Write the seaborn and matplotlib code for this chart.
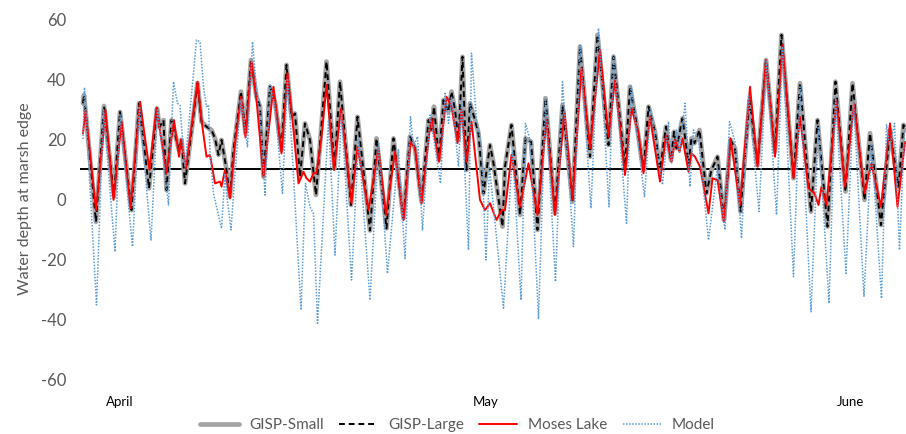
import matplotlib
matplotlib.use("Agg")
import matplotlib.pyplot as plt
import seaborn as sns
import pandas as pd

# ---- data (time in hours from start of record, water depth) ----
gisp_t = [0, 2, 26, 42, 62, 74, 97, 112, 132, 148, 153, 161, 167, 177, 192, 197, 204, 229, 237, 247,
          257, 264, 271, 277, 286, 294, 301, 316, 325, 336, 347, 354, 361, 374, 384, 397, 407, 417, 424,
          434, 444, 454, 466, 487, 503, 514, 536, 549, 574, 587, 607, 621, 641, 654, 664, 677, 691, 697,
          702, 712, 721, 731, 737, 744, 751, 759, 767, 774, 784, 791, 801, 814, 821, 839, 844, 857, 874,
          885, 896, 909, 925, 944, 959, 979, 994, 1014, 1029, 1051, 1061, 1084, 1094, 1107, 1121, 1131,
          1144, 1154, 1166, 1176, 1182, 1187, 1199, 1211, 1217, 1223, 1233, 1247, 1257, 1269, 1282, 1295,
          1304, 1315, 1333, 1349, 1366, 1384, 1397, 1421, 1434, 1456, 1469, 1489, 1505, 1525, 1539, 1563,
          1574, 1596, 1614, 1631, 1641, 1646]
gisp_small = [31.9, 34.7, -7.6, 31, 0.8, 29, -3.7, 31.9, 3.6, 30.2, 24, 26.3, 3, 26.3, 16.3, 19.7, 5.2, 38.6, 25.8, 24.1,
              23, 20.2, 14.7, 19.7, 10.8, 0.8, 16.3, 35.8, 21.9, 46.3, 34.1, 30.8, 7.4, 37.4, 32.4, 16.3, 44.7, 27.4, 28.5,
              7.4, 25.2, 19.7, 1.3, 45.8, 10.2, 39.1, -2, 27.4, -10.5, 20.2, -9.8, 20.2, -6.4, 20.8, 16.9, -0.9, 26.3, 23,
              30.8, 13, 33, 29.1, 35.8, 29.7, 19.7, 47.4, 9.7, 31.9, 26.3, 21.9, 1.9, 18, 11.9, -9.2, 10.8, 24.7, -5.3,
              20.2, 19.1, -10.3, 33.6, -4.8, 31.3, -0.9, 50.8, 14.1, 54.7, 18, 47.4, 10.8, 37.4, 25.2, 9.7, 30.8,
              22.4, 9.7, 24.1, 13, 22.4, 16.9, 26.9, 11.9, 20.2, 18.6, 23, 1.9, 9.7, 14.1, -7, 19.7,
              16.9, -4.2, 33, 11.3, 46.3, 15.8, 54.7, 6.9, 38.6, -4.2, 26.3, -9.2, 39.1, 2.5, 38.6, -0.3,
              21.9, -8.7, 23, 4.1, 24.7, 23]
gisp_large = gisp_small

moses_t = [0, 5, 26, 45, 61, 77, 95, 114, 133, 147, 167, 182, 192, 196, 206, 229, 237, 247, 254, 264, 274, 277,
           284, 294, 304, 316, 325, 337, 347, 361, 381, 397, 409, 421, 431, 441, 447, 454, 461, 467, 477, 487, 502,
           516, 537, 549, 571, 591, 606, 624, 641, 655, 664, 677, 694, 697, 712, 727, 737, 749, 757, 767, 777, 794,
           804, 814, 827, 837, 844, 857, 874, 891, 909, 927, 944, 963, 979, 997, 1014, 1034, 1051, 1064, 1084, 1097,
           1111, 1121, 1134, 1154, 1166, 1177, 1184, 1193, 1199, 1211, 1217, 1224, 1234, 1251, 1259, 1269, 1282,
           1295, 1314, 1334, 1349, 1366, 1384, 1399, 1421, 1434, 1451, 1463, 1471, 1477, 1487, 1507, 1524, 1542,
           1563, 1577, 1584, 1596, 1614, 1629, 1644]
moses = [21.9, 29.3, -3.7, 29.7, -0.3, 25.8, -3.1, 32.4, 9.7, 30.4, 8.6, 26.3, 14.1, 19.9, 10.2, 39.1, 26.3, 14.1, 14.7, 5.2, 5.8, 4.1,
         9.7, 0.2, 18.6, 34.1, 20.5, 45.8, 33, 7.4, 37.4, 15.2, 41.9, 23, 5.2, 9.1, 6.9, 5.8, 8.6, 8.6, 20.8, 38, 9.7,
         30.2, -1.4, 17.4, -3.7, 16.9, -5.3, 15.8, -7, 19.1, 16.9, -1.4, 24.1, 26.9, 12.4, 34.1, 30.8, 18.6, 29.7, 12.4, 25.8, -0.3,
         -3.7, -1.4, -7, -3.7, -3.7, 14.7, -2.6, 11.9, -5.3, 26.9, -5.3, 29.1, -0.3, 43.6, 16.9, 49.7, 20.8, 39.7, 8, 30.2,
         22, 8.6, 27.4, 5.8, 21.3, 12.4, 19.7, 15.8, 20.2, 9.1, 15.2, 14.1, 10.8, -4.8, 6.9, 6.3, -7.6,
         20.2, -2, 37.4, 10.8, 46.3, 14.1, 51.3, 6.9, 27.4, 3.6, 1.9, -2, 4.1, -2, 33, 4.1, 31.9,
         1.9, 11.9, 6.3, -2.6, 25.2, -2.6, 19.1]

model_t = [0, 3, 27, 41, 64, 74, 99, 113, 136, 149, 171, 181, 189, 194, 201, 204, 227, 234, 241, 247, 251, 254,
           261, 267, 277, 284, 287, 296, 304, 316, 329, 339, 347, 354, 364, 374, 384, 399, 409, 417, 436, 445, 454,
           461, 469, 491, 504, 517, 537, 551, 574, 591, 609, 631, 644, 655, 661, 669, 679, 694, 715, 724, 731, 737,
           751, 757, 771, 777, 787, 797, 806, 813, 821, 841, 859, 876, 885, 894, 911, 925, 945, 959, 981, 994, 1016,
           1031, 1052, 1061, 1087, 1096, 1123, 1135, 1159, 1171, 1177, 1187, 1193, 1204, 1214, 1221, 1231, 1251,
           1269, 1284, 1293, 1304, 1317, 1331, 1352, 1367, 1387, 1399, 1421, 1434, 1456, 1471, 1492, 1505, 1526,
           1541, 1562, 1577, 1597, 1607, 1614, 1623, 1633, 1643]
model = [20, 37.2, -35.3, 29.7, -17.6, 28, -15.9, 30.8, -13.7, 29.7, -2, 39.1, 31.9, 31.3, 15.2, 11, 53, 52.4, 37.4, 30.8, 31.3, 15.2,
         1.9, -2.6, -9.8, 8.6, 1.9, -10.3, 8.6, 33, 17.4, 52.4, 36.3, 28.6, 1.3, 38, 30.8, 1.9, 40.2, 19.7, -37, 5.2, -2.6,
         -4.8, -41.4, 26.3, -18.7, 28.6, -27, 19.7, -33.7, 18.6, -24.8, 16.4, -19.8, 27.4, 17.4, 20.8, -10.3, 28, 5.2, 35.2, 25.2, 34.1,
         10.8, 33, -17, 48.6, 26.3, 17.4, -20.3, 10.8, -2.6, -36.4, 16.4, -33.7, 25.2, 19.7, -39.8, 33.6, -27.6, 39.1, -15.9, 51.3, -3.1,
         56.9, -2.6, 48, -8.1, 38, 0.8, 30.2, 4.7, 25.8, 12, 23, 15.2, 31.9, 4.1, 23, 19.7, -13.7,
         10.8, -10.3, 25.8, 19.1, -13.1, 34.7, -4.2, 46.3, -5.3, 50.8, -25.9, 37.4, -37.6, 24.1, -34.8, 34.1, -24.8,
         33, -32.6, 18.6, -33.1, 24.7, 17.5, 25.2, -17, 23]

month_labels = ["April", "May", "June"]
month_pos = [74, 806, 1534]
ref_level = 10

# ---- figure ----
sns.set_theme(style="white")
plt.rcParams["font.family"] = ["Lato", "DejaVu Sans"]
plt.rcParams["axes.unicode_minus"] = False

fig = plt.figure(figsize=(9.06, 4.34), dpi=100)
ax = fig.add_axes([80 / 906, 1 - 379 / 434, 826 / 906, 360 / 434])

text_grey = "#595959"

ax.axhline(ref_level, color="black", lw=1.4, zorder=1)

df_gs = pd.DataFrame({"t": gisp_t, "v": gisp_small})
df_gl = pd.DataFrame({"t": gisp_t, "v": gisp_large})
df_ml = pd.DataFrame({"t": moses_t, "v": moses})
df_md = pd.DataFrame({"t": model_t, "v": model})

sns.lineplot(data=df_gs, x="t", y="v", ax=ax, color="#a5a5a5", lw=3.4, label="GISP-Small",
             estimator=None, sort=False, zorder=2)
ax.lines[-1].set_solid_joinstyle("round")
sns.lineplot(data=df_gl, x="t", y="v", ax=ax, color="black", lw=1.4, label="GISP-Large",
             estimator=None, sort=False, zorder=3, dashes=False)
ax.lines[-1].set_dashes((3, 2))
sns.lineplot(data=df_ml, x="t", y="v", ax=ax, color="#ff0000", lw=1.4, label="Moses Lake",
             estimator=None, sort=False, zorder=4)
ax.lines[-1].set_solid_joinstyle("round")
sns.lineplot(data=df_md, x="t", y="v", ax=ax, color="#5b9bd5", lw=1.1, label="Model",
             estimator=None, sort=False, zorder=5)
ax.lines[-1].set_dashes((1, 1))

ax.set_xlim(-6, 1646)
ax.set_ylim(-60, 60)
ax.set_yticks([-60, -40, -20, 0, 20, 40, 60])
ax.set_xticks(month_pos)
ax.set_xticklabels(month_labels, fontsize=9.5, color="black")
ax.tick_params(axis="y", labelsize=12, colors=text_grey, length=0, pad=10)
ax.tick_params(axis="x", length=0, pad=12)
for lab in ax.get_yticklabels():
    lab.set_color(text_grey)
ax.set_xlabel("")
ax.set_ylabel("Water depth at marsh edge", fontsize=11.5, color=text_grey, labelpad=6)
for s in ax.spines.values():
    s.set_visible(False)
ax.grid(False)

handles, labels = ax.get_legend_handles_labels()
ax.get_legend().remove()
fig.legend(handles, labels, loc="center", bbox_to_anchor=(0.505, 0.02), ncol=4, frameon=False,
           fontsize=11, handlelength=2.5, handletextpad=0.7, columnspacing=1.0,
           labelcolor=text_grey)

fig.savefig("out.png", dpi=100)
